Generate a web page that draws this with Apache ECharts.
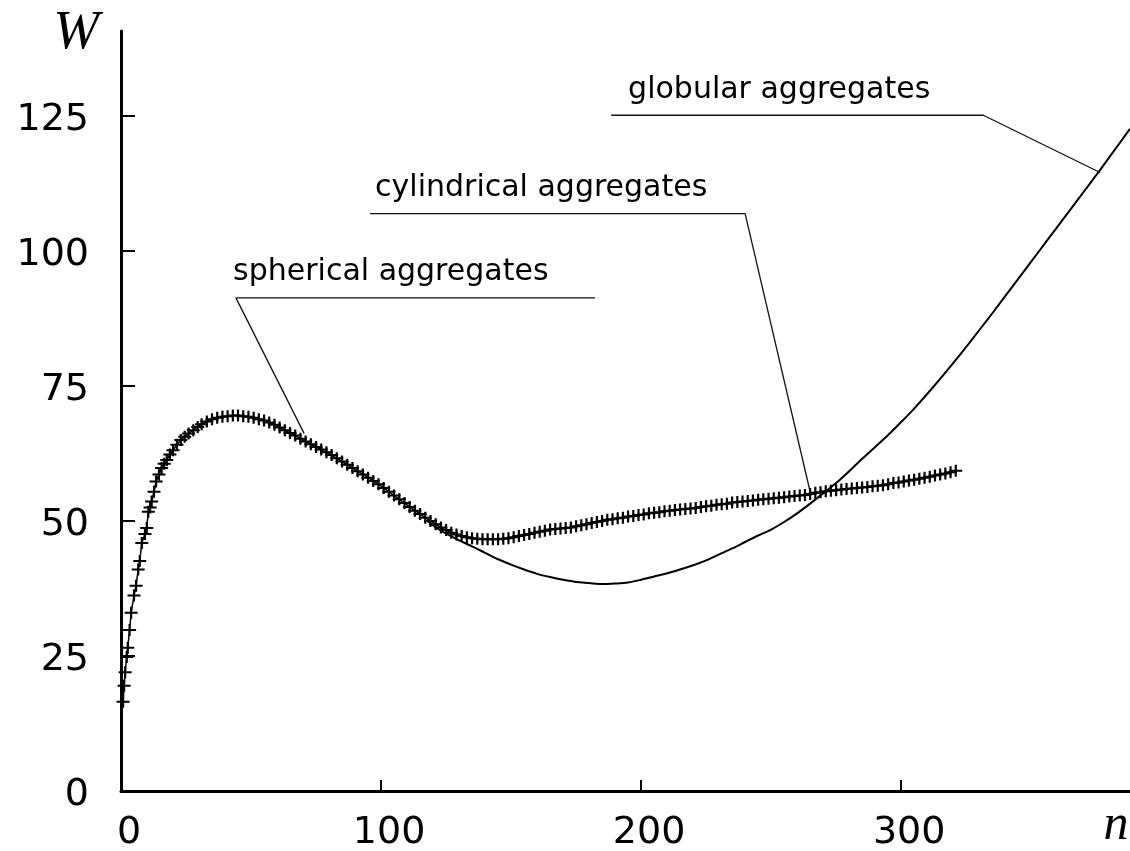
<!DOCTYPE html>
<html>
<head>
<meta charset="utf-8">
<script src="https://cdn.jsdelivr.net/npm/echarts@6/dist/echarts.min.js"></script>
<style>
html,body{margin:0;padding:0;background:#fff;}
#chart{width:1130px;height:851px;}
</style>
</head>
<body>
<div id="chart"></div>
<script>
// ---------- data ----------
const xTickLabels = [0, 100, 200, 300];
const yTickLabels = [0, 25, 50, 75, 100, 125];
const xTickMarks = [100, 200, 300];
const yTickMarks = [25, 50, 75, 100, 125];
const xAxisName = 'n';
const yAxisName = 'W';
const annotationLabels = ['spherical aggregates', 'cylindrical aggregates', 'globular aggregates'];

// spherical + cylindrical aggregates (curve marked with "+")
const markedCurve = [
  [0.8,16.5],[1.2,19.5],[1.6,22],[2.2,24.8],[2.6,26.5],[3.3,29.8],[3.9,33],[5.0,36.2],[5.8,38],[6.6,41],
  [7.2,42.6],[8,45.9],[9.2,47.6],[9.9,48.7],[10.5,51.7],[11.2,52.5],[11.8,53.6],[12.7,55.4],[13.5,57.3],[14.6,58.6],
  [15.6,59.8],[16.6,60.6],[17.6,61.3],[18.8,62.3],[20,63.1],[21.5,64.1],[23,65],[24.5,65.6],[26,66.2],[27.8,66.8],
  [29.5,67.4],[31,67.9],[33,68.4],[35,68.8],[37,69.1],[39,69.3],[41,69.4],[43,69.5],[45,69.5],[47,69.4],
  [49,69.3],[51,69.1],[53,68.8],[55,68.6],[57,68.2],[59,67.8],[61,67.3],[63,66.8],[65,66.3],[67,65.8],
  [69,65.2],[71,64.7],[73,64.2],[75,63.7],[77,63.2],[79,62.7],[81,62.2],[83,61.6],[85,61.0],[87,60.4],
  [89,59.8],[91,59.2],[93,58.6],[95,58.0],[97,57.4],[99,56.8],[101,56.1],[103,55.4],[105,54.7],[107,54.0],
  [109,53.3],[111,52.6],[113,51.9],[115,51.3],[117,50.6],[119,50.0],[121,49.4],[123,48.8],[125,48.3],[127,47.8],
  [129,47.5],[131,47.2],[133,47.0],[135,46.8],[137,46.7],[139,46.6],[141,46.6],[143,46.6],[145,46.6],[147,46.7],
  [149,46.8],[151,47.0],[153,47.2],[155,47.4],[157,47.6],[159,47.8],[161,48.0],[163,48.2],[165,48.4],[167,48.5],
  [169,48.6],[171,48.7],[173,48.8],[175,49.0],[177,49.2],[179,49.4],[181,49.6],[183,49.8],[185,50.0],[187,50.2],
  [189,50.3],[191,50.5],[193,50.6],[195,50.8],[197,50.9],[199,51.1],[201,51.2],[203,51.4],[205,51.5],[207,51.6],
  [209,51.8],[211,51.9],[213,52.0],[215,52.1],[217,52.2],[219,52.3],[221,52.4],[223,52.6],[225,52.7],[227,52.8],
  [229,53.0],[231,53.1],[233,53.2],[235,53.4],[237,53.5],[239,53.6],[241,53.7],[243,53.8],[245,53.9],[247,54.0],
  [249,54.1],[251,54.2],[253,54.3],[255,54.4],[257,54.5],[259,54.6],[261,54.7],[263,54.8],[265,55.0],[267,55.2],
  [269,55.3],[271,55.5],[273,55.6],[275,55.7],[277,55.8],[279,55.9],[281,56.0],[283,56.1],[285,56.2],[287,56.3],
  [289,56.4],[291,56.5],[293,56.6],[295,56.8],[297,57.0],[299,57.1],[301,57.3],[303,57.5],[305,57.6],[307,57.8],
  [309,58.0],[311,58.2],[313,58.4],[315,58.6],[317,58.8],[319,59.0],[321,59.3]
];

// globular aggregates (thin line)
const globularCurve = [
  [118,49.9],[122,48.5],[126,47.4],[130,46.4],[135,45.3],[140,44.1],[145,42.9],[150,41.9],[155,41.0],[160,40.2],
  [165,39.6],[170,39.1],[175,38.7],[180,38.5],[185,38.3],[190,38.4],[195,38.6],[200,39.1],[205,39.7],[210,40.3],
  [215,41.0],[220,41.8],[225,42.7],[230,43.8],[235,44.9],[240,46.1],[245,47.3],[250,48.4],[255,49.8],[260,51.4],
  [265,53.2],[270,55.1],[275,57.0],[280,59.2],[285,61.5],[290,63.7],[295,65.9],[300,68.3],[305,70.8],[310,73.5],
  [315,76.3],[320,79.2],[325,82.2],[330,85.3],[335,88.4],[340,91.6],[345,94.8],[350,98.0],[355,101.2],[360,104.4],
  [365,107.6],[370,110.8],[375,114.0],[380,117.3],[385,120.6],[388,122.6]
];

// annotation leader lines (data coordinates)
const sphericalLeader = [[70.4,66.2],[44.2,91.3],[182.3,91.3]];
const cylindricalLeader = [[265,55.4],[240,106.9],[95.8,106.9]];
const globularLeader = [[376.5,114.5],[331.6,125.1],[188.5,125.1]];

// ---------- chart ----------
const chart = echarts.init(document.getElementById('chart'), null, {renderer: 'canvas'});
const plusPath = 'path://M5,0h2v5h5v2h-5v5h-2v-5h-5v-2h5z';
const labelFont = 'DejaVu Sans';

function leaderSeries(data) {
  return {
    type: 'line', data: data, symbol: 'none', silent: true, z: 2,
    lineStyle: {color: '#111', width: 1.3}, animation: false
  };
}

const option = {
  animation: false,
  backgroundColor: '#fff',
  grid: {left: 121, right: 0, top: 31, bottom: 60, containLabel: false, outerBoundsMode: 'none'},
  xAxis: {
    type: 'value', min: 0, max: 388,
    name: xAxisName, nameLocation: 'end', nameGap: -14,
    nameTextStyle: {fontFamily: 'Liberation Serif', fontStyle: 'italic', fontSize: 50, lineHeight: 70, color: '#000', align: 'center', verticalAlign: 'top'},
    axisLine: {show: true, onZero: false, lineStyle: {color: '#000', width: 3}},
    axisTick: {show: true, inside: true, length: 11, customValues: xTickMarks, lineStyle: {color: '#000', width: 2}},
    axisLabel: {customValues: xTickLabels, fontFamily: labelFont, fontSize: 38, color: '#000', margin: 23, padding: [0, 0, 0, 16]},
    splitLine: {show: false}
  },
  yAxis: {
    type: 'value', min: 0, max: 140.7,
    name: yAxisName, nameLocation: 'end', nameGap: -31,
    nameTextStyle: {fontFamily: 'Liberation Serif', fontStyle: 'italic', fontSize: 55, lineHeight: 56, color: '#000', align: 'right', verticalAlign: 'bottom', padding: [0, 22, 0, 0]},
    axisLine: {show: true, onZero: false, lineStyle: {color: '#000', width: 3}},
    axisTick: {show: true, inside: true, length: 14, customValues: yTickMarks, lineStyle: {color: '#000', width: 2}},
    axisLabel: {
      customValues: yTickLabels, color: '#000', margin: 32, verticalAlign: 'middle',
      formatter: '{v|{value}}',
      rich: {v: {fontFamily: labelFont, fontSize: 38, color: '#000', padding: [8, 0, 0, 0]}}
    },
    splitLine: {show: false}
  },
  series: [
    {
      name: 'spherical / cylindrical aggregates', type: 'line', data: markedCurve,
      symbol: plusPath, symbolSize: [13, 12], showSymbol: true, showAllSymbol: true,
      itemStyle: {color: '#000'}, lineStyle: {color: '#000', width: 1.5}, z: 3, silent: true
    },
    {
      name: 'globular aggregates', type: 'line', data: globularCurve, symbol: 'none', smooth: 0.3,
      lineStyle: {color: '#000', width: 2}, z: 3, silent: true
    },
    leaderSeries(sphericalLeader),
    leaderSeries(cylindricalLeader),
    leaderSeries(globularLeader)
  ]
};
chart.setOption(option);

// annotation texts, anchored in data coordinates (left edge, vertical middle)
const annotationAnchors = [[43.1, 96.1], [97.7, 111.6], [195.0, 129.8]];
chart.setOption({
  graphic: annotationLabels.map(function (t, i) {
    const p = chart.convertToPixel({gridIndex: 0}, annotationAnchors[i]);
    return {
      type: 'text', x: p[0], y: p[1], silent: true,
      style: {text: t, fontFamily: labelFont, fontSize: 30, fill: '#000', align: 'left', verticalAlign: 'middle'}
    };
  })
});
</script>
</body>
</html>
